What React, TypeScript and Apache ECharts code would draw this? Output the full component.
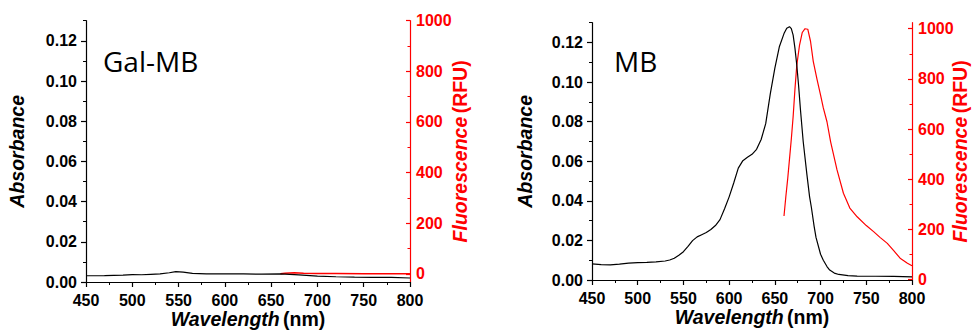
import React, { useEffect, useRef } from "react";
import * as echarts from "echarts";

// ---------- data ----------
const wlAbsGal = [450, 470, 490, 500, 510, 520, 530, 540, 547, 555, 565, 580, 600, 620, 640, 660, 680, 700, 720, 740, 760, 780, 800];
const absGal = [0.0031, 0.0032, 0.0034, 0.0037, 0.0036, 0.0038, 0.004, 0.0046, 0.0052, 0.0049, 0.0043, 0.004, 0.0041, 0.004, 0.0039, 0.004, 0.0035, 0.0029, 0.0026, 0.0024, 0.0023, 0.0023, 0.002];

const wlFlGal = [660, 665, 675, 685, 700, 720, 750, 780, 800];
const flGal = [1, 3, 5, 3, 2, 2, 1, 1, 1];

const wlAbsMB = [450, 460, 470, 480, 490, 500, 510, 520, 530, 535, 540, 545, 550, 555, 560, 565, 570, 575, 580, 585, 590, 595, 600, 605, 610, 615, 620, 625, 630, 635, 640, 645, 650, 655, 660, 663, 666, 668, 670, 672, 674, 676, 678, 681, 685, 688, 690, 693, 695, 700, 703, 707, 710, 715, 720, 730, 740, 760, 780, 800];
const absMB = [0.0081, 0.0078, 0.0076, 0.008, 0.0085, 0.0088, 0.0089, 0.0092, 0.0096, 0.0101, 0.011, 0.0125, 0.0143, 0.017, 0.0199, 0.0218, 0.0229, 0.024, 0.0255, 0.0275, 0.0305, 0.036, 0.042, 0.049, 0.0565, 0.0603, 0.062, 0.0635, 0.066, 0.071, 0.079, 0.094, 0.107, 0.118, 0.1245, 0.1272, 0.128, 0.127, 0.1237, 0.117, 0.1085, 0.098, 0.086, 0.07, 0.0535, 0.042, 0.0365, 0.027, 0.0215, 0.013, 0.01, 0.0068, 0.005, 0.0035, 0.0028, 0.0022, 0.002, 0.0019, 0.0018, 0.0016];

const wlFlMB = [660, 662, 664, 666, 668, 670, 672, 674, 677, 680, 683, 686, 689, 692, 696, 700, 703, 707, 711, 718, 725, 732, 740, 750, 758, 765, 773, 780, 787, 795, 800];
const flMB = [253, 330, 400, 480, 560, 650, 760, 855, 935, 985, 1000, 998, 950, 870, 800, 735, 684, 629, 549, 437, 344, 285, 250, 215, 191, 168, 144, 115, 85, 65, 55];

const absMajor = [0, 0.02, 0.04, 0.06, 0.08, 0.1, 0.12];
const absMinor = [0.01, 0.03, 0.05, 0.07, 0.09, 0.11, 0.13];
const flMajor = [0, 200, 400, 600, 800, 1000];
const flMinor = [100, 300, 500, 700, 900];

const panelTitles = ["Gal-MB", "MB"];

const zip = (xs: number[], ys: number[]) => xs.map((x, i) => [x, ys[i]]);

const FONT = '"Liberation Sans", Arial, sans-serif';
const RED = "#ff0000";

export default function App() {
  const ref = useRef<HTMLDivElement>(null);
  useEffect(() => {
    document.body.style.margin = "0";
    const chart = echarts.init(ref.current!, null, { renderer: "svg" });

    const grids = [
      { left: 86, top: 20.7, width: 324, height: 261.3, outerBoundsMode: "none", containLabel: false },
      { left: 592, top: 22.7, width: 320, height: 257.3, outerBoundsMode: "none", containLabel: false },
    ];
    const flRanges = [
      [-32, 1000],
      [-2, 1024],
    ];

    const nameRich = (color: string) => ({
      i: { fontStyle: "italic", fontWeight: "bold", fontSize: 19.5, lineHeight: 20, fontFamily: FONT, color },
      n: { fontStyle: "normal", fontWeight: "bold", fontSize: 19.5, lineHeight: 20, fontFamily: FONT, color },
    });

    const xAxis: any[] = [];
    const yAxis: any[] = [];
    const absNameGap = [59, 57];
    const flNameGap = [40, 38];
    [0, 1].forEach((g) => {
      xAxis.push({
        type: "value",
        gridIndex: g,
        min: 450,
        max: 800,
        interval: 50,
        name: "{i|Wavelength} {n|(nm)}",
        nameLocation: "middle",
        nameGap: 27,
        nameMoveOverlap: false,
        nameTextStyle: { rich: nameRich("#000"), lineHeight: 20 },
        axisLine: { show: true, onZero: false, lineStyle: { color: "#000", width: 1.2 } },
        axisTick: { show: true, inside: false, length: 5, lineStyle: { color: "#000", width: 1.2 } },
        minorTick: { show: true, splitNumber: 2, length: 3, lineStyle: { color: "#000", width: 1 } },
        axisLabel: { color: "#000", fontFamily: FONT, fontWeight: "bold", fontSize: 16, margin: 10 },
        splitLine: { show: false },
        minorSplitLine: { show: false },
      });
      // absorbance (left)
      yAxis.push({
        type: "value",
        gridIndex: g,
        position: "left",
        min: 0,
        max: 0.13,
        name: "{i|Absorbance}",
        nameLocation: "middle",
        nameGap: absNameGap[g],
        nameMoveOverlap: false,
        nameTextStyle: { rich: nameRich("#000"), lineHeight: 20 },
        axisLine: { show: true, onZero: false, lineStyle: { color: "#000", width: 1.2 } },
        axisTick: { show: true, inside: false, length: 5, customValues: absMajor, lineStyle: { color: "#000", width: 1.2 } },
        axisLabel: {
          customValues: absMajor,
          color: "#000",
          fontFamily: FONT,
          fontWeight: "bold",
          fontSize: 16,
          margin: 9,
          formatter: (v: number) => v.toFixed(2),
        },
        splitLine: { show: false },
      });
      // absorbance minor ticks
      yAxis.push({
        type: "value",
        gridIndex: g,
        position: "left",
        min: 0,
        max: 0.13,
        axisLine: { show: false },
        axisTick: { show: true, inside: false, length: 3, customValues: absMinor, lineStyle: { color: "#000", width: 1 } },
        axisLabel: { show: false },
        splitLine: { show: false },
      });
      // fluorescence (right)
      yAxis.push({
        type: "value",
        gridIndex: g,
        position: "right",
        min: flRanges[g][0],
        max: flRanges[g][1],
        name: "{i|Fluorescence} {n|(RFU)}",
        nameLocation: "middle",
        nameGap: flNameGap[g],
        nameMoveOverlap: false,
        nameTextStyle: { rich: nameRich(RED), lineHeight: 20 },
        axisLine: { show: true, onZero: false, lineStyle: { color: RED, width: 1.2 } },
        axisTick: { show: true, inside: true, length: 4, customValues: flMajor, lineStyle: { color: RED, width: 1.2 } },
        axisLabel: {
          customValues: flMajor,
          color: RED,
          fontFamily: FONT,
          fontWeight: "bold",
          fontSize: 16,
          margin: 6,
          formatter: (v: number) => String(v),
        },
        splitLine: { show: false },
      });
      yAxis.push({
        type: "value",
        gridIndex: g,
        position: "right",
        min: flRanges[g][0],
        max: flRanges[g][1],
        axisLine: { show: false },
        axisTick: { show: true, inside: true, length: 2.5, customValues: flMinor, lineStyle: { color: RED, width: 1 } },
        axisLabel: { show: false },
        splitLine: { show: false },
      });
    });

    const series: any[] = [
      { type: "line", xAxisIndex: 0, yAxisIndex: 0, data: zip(wlAbsGal, absGal), showSymbol: false, symbol: "none", lineStyle: { color: "#000", width: 1.2 }, z: 3 },
      { type: "line", xAxisIndex: 0, yAxisIndex: 2, data: zip(wlFlGal, flGal), showSymbol: false, symbol: "none", lineStyle: { color: RED, width: 1.5 }, z: 2 },
      { type: "line", xAxisIndex: 1, yAxisIndex: 4, data: zip(wlAbsMB, absMB), showSymbol: false, symbol: "none", lineStyle: { color: "#000", width: 1.2 }, z: 3 },
      { type: "line", xAxisIndex: 1, yAxisIndex: 6, data: zip(wlFlMB, flMB), showSymbol: false, symbol: "none", lineStyle: { color: RED, width: 1.2 }, z: 2 },
    ];

    chart.setOption({
      animation: false,
      backgroundColor: "#fff",
      grid: grids,
      xAxis,
      yAxis,
      series,
      graphic: [
        { type: "text", left: 103, top: 47, style: { text: panelTitles[0], font: '28px "Open Sans"', fill: "#000" } },
        { type: "text", left: 614, top: 47, style: { text: panelTitles[1], font: '28px "Open Sans"', fill: "#000" } },
      ],
    });
    return () => chart.dispose();
  }, []);
  return <div ref={ref} style={{ width: 972, height: 330 }} />;
}
